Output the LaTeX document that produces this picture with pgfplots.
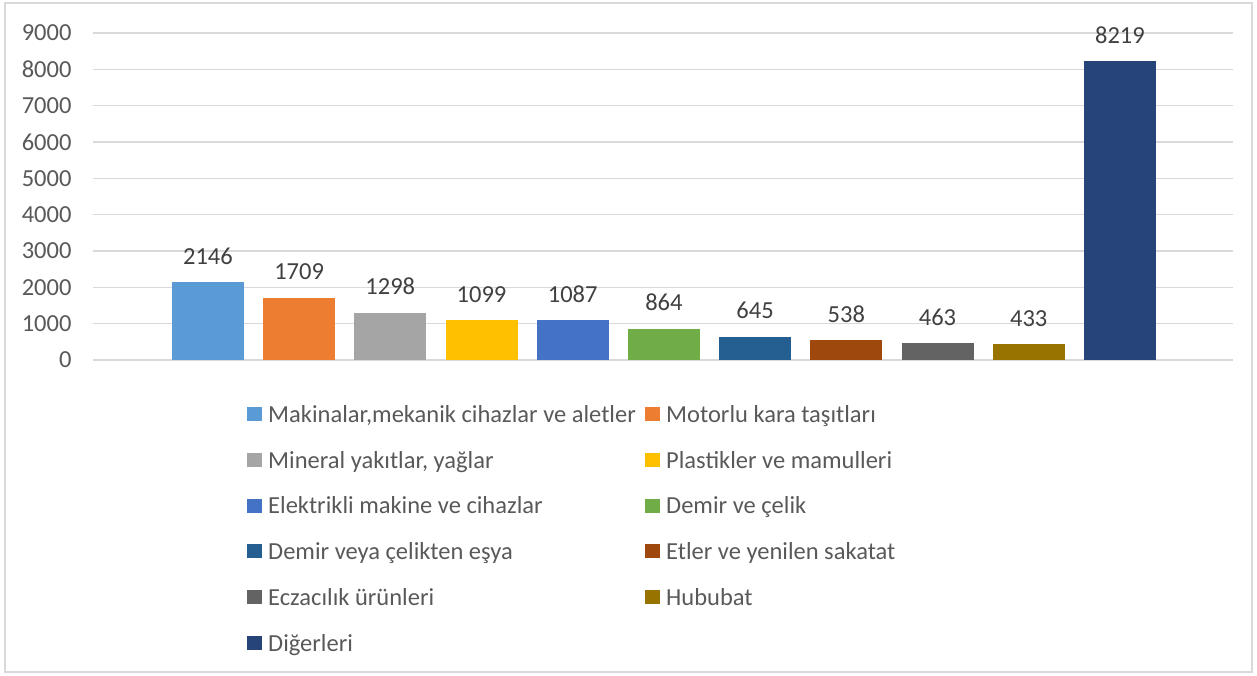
\documentclass[border=0pt]{standalone}
\usepackage{pgfplots}
\pgfplotsset{compat=1.18}
\usepackage{fontspec}
\setmainfont{Carlito}
\definecolor{c1}{HTML}{5B9BD5}
\definecolor{c2}{HTML}{ED7D31}
\definecolor{c3}{HTML}{A5A5A5}
\definecolor{c4}{HTML}{FFC000}
\definecolor{c5}{HTML}{4472C4}
\definecolor{c6}{HTML}{70AD47}
\definecolor{c7}{HTML}{255E91}
\definecolor{c8}{HTML}{9E480E}
\definecolor{c9}{HTML}{636363}
\definecolor{c10}{HTML}{997300}
\definecolor{c11}{HTML}{264478}
\definecolor{gridc}{HTML}{D9D9D9}
\definecolor{tickc}{HTML}{595959}
\definecolor{labc}{HTML}{404040}
\newcommand{\ls}{\rule[-6bp]{0pt}{24bp}}
\newcommand{\la}[1]{\makebox[377bp][l]{\ls #1}}
\begin{document}
\begin{tikzpicture}[x=1bp,y=1bp]
\path (0,0) rectangle (1257,676);
\draw[gridc, line width=1.2bp] (5,4) rectangle (1252,673);
\begin{axis}[
  at={(93bp,316bp)}, anchor=south west,
  scale only axis, width=1140bp, height=327bp,
  xmin=-1.26, xmax=11.24, ymin=0, ymax=9000,
  ybar, bar width=72bp,
  ytick={0,1000,...,9000}, xtick=\empty,
  ymajorgrids, major grid style={draw=gridc, line width=1.3bp},
  axis line style={draw=none}, major tick length=0pt,
  /pgf/number format/assume math mode=true,
  /pgf/number format/1000 sep={},
  yticklabel style={font=\fontsize{24.5bp}{28bp}\selectfont, text=tickc, xshift=-18bp},
  every axis plot/.append style={bar shift=0pt, draw=none},
  nodes near coords,
  every node near coord/.append style={font=\fontsize{24.5bp}{28bp}\selectfont, text=labc, anchor=base, yshift=18bp},
  legend columns=2,
  legend cell align=left,
  legend style={at={(0.1351,-0.1346)}, anchor=north west, draw=none, fill=none, inner sep=0pt,
    nodes={inner sep=0pt},
    font=\fontsize{24.5bp}{28bp}\selectfont, text=tickc, row sep=26.3bp,
    /tikz/every odd column/.append style={column sep=6bp},
    /tikz/every even column/.append style={column sep=0bp}},
  legend image code/.code={\fill[#1] (0bp,-7bp) rectangle (15bp,7bp);},
]
\addplot[fill=c1] coordinates {(0,2146)};
\addplot[fill=c2] coordinates {(1,1709)};
\addplot[fill=c3] coordinates {(2,1298)};
\addplot[fill=c4] coordinates {(3,1099)};
\addplot[fill=c5] coordinates {(4,1087)};
\addplot[fill=c6] coordinates {(5,864)};
\addplot[fill=c7] coordinates {(6,645)};
\addplot[fill=c8] coordinates {(7,538)};
\addplot[fill=c9] coordinates {(8,463)};
\addplot[fill=c10] coordinates {(9,433)};
\addplot[fill=c11] coordinates {(10,8219)};
\legend{\la{Makinalar,mekanik cihazlar ve aletler},\ls Motorlu kara taşıtları,
\la{Mineral yakıtlar, yağlar},\ls Plastikler ve mamulleri,
\la{Elektrikli makine ve cihazlar},\ls Demir ve çelik,
\la{Demir veya çelikten eşya},\ls Etler ve yenilen sakatat,
\la{Eczacılık ürünleri},\ls Hububat,
\la{Diğerleri}}
\end{axis}
\end{tikzpicture}
\end{document}
